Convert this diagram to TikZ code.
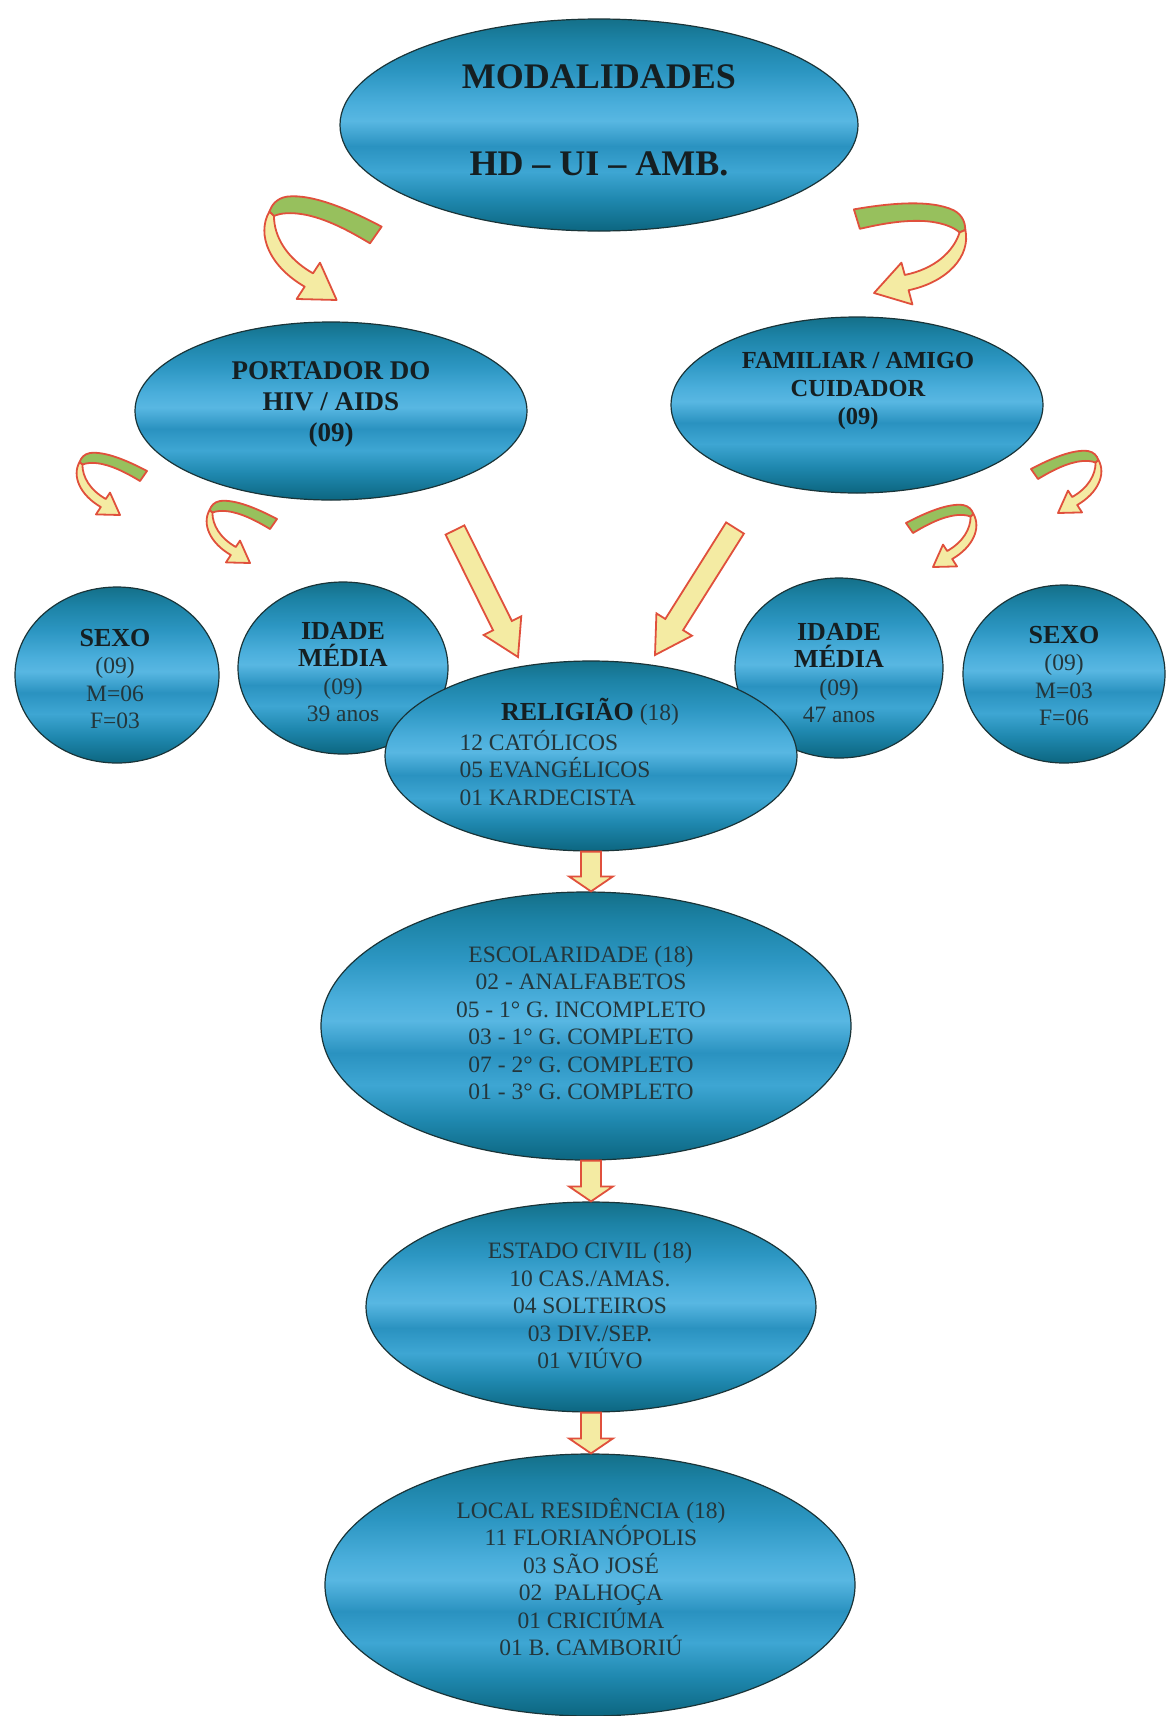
\documentclass[tikz,border=0pt]{standalone}
\usepackage{fontspec}
\setmainfont{Liberation Serif}
\usetikzlibrary{shapes.geometric,calc}
\definecolor{shA}{HTML}{0C6680}
\definecolor{shB}{HTML}{1F88AF}
\definecolor{shC}{HTML}{3EA6D3}
\definecolor{shD}{HTML}{2A92C0}
\definecolor{shE}{HTML}{58B7E2}
\definecolor{shF}{HTML}{4AAEDB}
\definecolor{shG}{HTML}{2C96C2}
\definecolor{shH}{HTML}{1C82A5}
\definecolor{shI}{HTML}{147089}
\definecolor{edge}{HTML}{1A3438}
\definecolor{txtdark}{HTML}{151F22}
\definecolor{txtreg}{HTML}{24363B}
\definecolor{ribred}{HTML}{E0503C}
\definecolor{ribyel}{HTML}{F4EBA3}
\definecolor{ribgreen}{HTML}{97C05D}
\pgfdeclareverticalshading{metal}{100bp}{color(0bp)=(shA); color(25bp)=(shA); color(32.5bp)=(shB); color(39bp)=(shC); color(45bp)=(shD); color(51bp)=(shE); color(55bp)=(shF); color(62.5bp)=(shG); color(70bp)=(shH); color(75bp)=(shI); color(100bp)=(shI)}
\tikzset{
  ell/.style={ellipse, draw=edge, line width=1.2pt, shade, shading=metal, inner sep=0pt},
  hd/.style={font=\bfseries\fontsize{26}{29}\selectfont, text=txtdark, align=center},
  lst/.style={font=\fontsize{23.5}{27.5}\selectfont, text=txtreg, align=center},
  grn/.style={fill=ribgreen, draw=ribred, line width=1.8pt, line join=round},
  ylw/.style={fill=ribyel, draw=ribred, line width=1.8pt, line join=round},
  arr/.style={fill=ribyel, draw=ribred, line width=1.8pt, line join=miter},
}
% #1,#2 shift, #3 rotation, #4 xscale, #5 yscale
\newcommand\ribbon[5]{%
  \begin{scope}[shift={(#1,#2)}, rotate=#3, xscale=#4, yscale=#5]
    \path[grn] (605,140) .. controls (520,95) and (400,40) .. (320,50) .. controls (290,55) and (275,75) .. (268,95) -- (282,108) .. controls (300,100) and (330,95) .. (380,105) .. controls (450,120) and (520,160) .. (570,190) -- cycle;
    \path[ylw] (268,95) .. controls (228,165) and (270,260) .. (374,320) -- (350,357) -- (470,360) -- (420,248) -- (399,280) .. controls (320,235) and (282,170) .. (282,108) -- cycle;
  \end{scope}}
\newcommand\blockarr[5]{%
  \path ($(#2)!#5!(#1)$) coordinate (hb);
  \draw[arr] ($(#1)!#3!90:(#2)$) -- ($(hb)!#3!90:(#2)$) -- ($(hb)!#4!90:(#2)$) -- (#2) -- ($(hb)!#4!-90:(#2)$) -- ($(hb)!#3!-90:(#2)$) -- ($(#1)!#3!-90:(#2)$) -- cycle;}
\begin{document}
\begin{tikzpicture}[x=1pt,y=-1pt]
\useasboundingbox (0,0) rectangle (1165,1716);
\fill[white] (0,0) rectangle (1165,1716);

% ellipses
\node[ell, minimum width=518pt, minimum height=212pt] (mod) at (599,125) {};
\node[ell, minimum width=392pt, minimum height=178pt] (por) at (331,411) {};
\node[ell, minimum width=372pt, minimum height=176pt] (fam) at (857,405) {};
\node[ell, minimum width=204pt, minimum height=176pt] (sexl) at (117,675) {};
\node[ell, minimum width=210pt, minimum height=172pt] (idl) at (343,668) {};
\node[ell, minimum width=208pt, minimum height=180pt] (idr) at (839,668) {};
\node[ell, minimum width=202pt, minimum height=178pt] (sexr) at (1064,674) {};
\node[ell, minimum width=412pt, minimum height=190pt] (rel) at (591,756) {};
\node[ell, minimum width=530pt, minimum height=268pt] (esc) at (586,1026) {};
\node[ell, minimum width=450pt, minimum height=210pt] (est) at (591,1307) {};
\node[ell, minimum width=530pt, minimum height=262pt] (loc) at (590,1585) {};

% texts
\node[hd, font=\bfseries\fontsize{36}{87}\selectfont] (modt) at (599,120) {MODALIDADES\\HD – UI – AMB.};
\node[hd, font=\bfseries\fontsize{27}{31}\selectfont] (port) at (331,404) {PORTADOR DO\\HIV / AIDS\\(09)};
\node[hd, font=\bfseries\fontsize{24.5}{28}\selectfont] (famt) at (858,391) {FAMILIAR / AMIGO\\CUIDADOR\\(09)};
\node[lst] (sexlt) at (115,679) {{\bfseries\fontsize{26}{27.5}\selectfont\color{txtdark}SEXO}\\(09)\\M=06\\F=03};
\node[lst] (idlt) at (343,672) {{\bfseries\fontsize{26}{27.5}\selectfont\color{txtdark}IDADE}\\{\bfseries\fontsize{26}{27.5}\selectfont\color{txtdark}MÉDIA}\\(09)\\39 anos};
\node[lst] (idrt) at (839,673) {{\bfseries\fontsize{26}{27.5}\selectfont\color{txtdark}IDADE}\\{\bfseries\fontsize{26}{27.5}\selectfont\color{txtdark}MÉDIA}\\(09)\\47 anos};
\node[lst] (sexrt) at (1064,676) {{\bfseries\fontsize{26}{27.5}\selectfont\color{txtdark}SEXO}\\(09)\\M=03\\F=06};
\node[lst] (relh) at (590,712) {{\bfseries\fontsize{26}{27.5}\selectfont\color{txtdark}RELIGIÃO} (18)};
\node[lst, align=left, anchor=west] (relt) at (456,768) {12 CATÓLICOS\\05 EVANGÉLICOS\\01 KARDECISTA};
\node[lst] (esct) at (581,1023) {ESCOLARIDADE (18)\\02 - ANALFABETOS\\05 - 1° G. INCOMPLETO\\03 - 1° G. COMPLETO\\07 - 2° G. COMPLETO\\01 - 3° G. COMPLETO};
\node[lst] (estt) at (590,1306) {ESTADO CIVIL (18)\\10 CAS./AMAS.\\04 SOLTEIROS\\03 DIV./SEP.\\01 VIÚVO};
\node[lst] (loct) at (591,1577) {LOCAL RESIDÊNCIA (18)\\11 FLORIANÓPOLIS\\03 SÃO JOSÉ\\02\ \ PALHOÇA\\01 CRICIÚMA\\01 B. CAMBORIÚ};

% curved ribbon arrows
\ribbon{180}{180}{0}{0.3333}{0.3333}
\ribbon{1060.1}{227.3}{-18}{-0.3333}{0.3333}
\ribbon{26}{443}{0}{0.2}{0.2}
\ribbon{156}{491}{0}{0.2}{0.2}
\ribbon{1152}{441}{0}{-0.2}{0.2}
\ribbon{1027}{495}{0}{-0.2}{0.2}

% big straight arrows
\coordinate (lt) at (455,530);
\coordinate (lh) at (518,657);
\coordinate (rt) at (735,528);
\coordinate (rh) at (655,655);
\blockarr{lt}{lh}{10.5pt}{21pt}{35pt}
\blockarr{rt}{rh}{10.5pt}{21pt}{36pt}

% small down arrows
\coordinate (d1a) at (rel.south);
\coordinate (d1b) at (rel.south |- esc.north);
\coordinate (d2a) at (esc.south -| est.north);
\coordinate (d2b) at (est.north);
\coordinate (d3a) at (est.south);
\coordinate (d3b) at (est.south |- loc.north);
\blockarr{d1a}{d1b}{10pt}{22pt}{15pt}
\blockarr{d2a}{d2b}{10pt}{22pt}{15pt}
\blockarr{d3a}{d3b}{10pt}{22pt}{15pt}
\end{tikzpicture}
\end{document}
